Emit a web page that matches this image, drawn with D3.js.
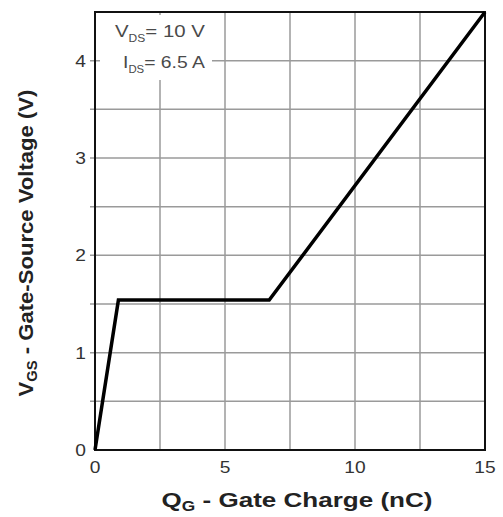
<!DOCTYPE html>
<html>
<head>
<meta charset="utf-8">
<script src="https://cdn.jsdelivr.net/npm/d3@7"></script>
<style>
  body { margin: 0; background: #fff; }
  svg { display: block; font-family: "Liberation Sans", Arial, sans-serif; }
</style>
</head>
<body>
<div id="chart"></div>
<script>
// >-----------------< Data >-------------------<
const gateCharge = [0, 0.9, 6.7, 15];        // Q_G (nC)
const gateVoltage = [0, 1.54, 1.54, 4.5];    // V_GS (V)
const xTicks = [0, 5, 10, 15];
const yTicks = [0, 1, 2, 3, 4];
const xGrid = [2.5, 5, 7.5, 10, 12.5];
const yGrid = [0.5, 1, 1.5, 2, 2.5, 3, 3.5, 4];

// >-----------------< Layout >-------------------<
const width = 503, height = 517;
const margin = {top: 12, right: 18, bottom: 67, left: 95};
const plotW = width - margin.left - margin.right;
const plotH = height - margin.top - margin.bottom;

const svg = d3.select("#chart").append("svg")
  .attr("width", width)
  .attr("height", height);

const g = svg.append("g")
  .attr("transform", `translate(${margin.left},${margin.top})`);

const x = d3.scaleLinear().domain([0, 15]).range([0, plotW]);
const y = d3.scaleLinear().domain([0, 4.5]).range([plotH, 0]);

// stretch a text horizontally so it spans the wanted width (source font is wider)
function stretchTo(sel, target, base) {
  const w = sel.node().getComputedTextLength();
  sel.attr("transform", `${base} scale(${target / w},1)`);
}

// Grid
g.selectAll(".vgrid").data(xGrid).enter().append("line")
  .attr("x1", d => x(d)).attr("x2", d => x(d))
  .attr("y1", 0).attr("y2", plotH)
  .attr("stroke", "#9a9a9a").attr("stroke-width", 1.5);

g.selectAll(".hgrid").data(yGrid).enter().append("line")
  .attr("x1", -5).attr("x2", plotW)
  .attr("y1", d => y(d)).attr("y2", d => y(d))
  .attr("stroke", "#9a9a9a").attr("stroke-width", 1.5);

// Annotation box (covers grid)
g.append("rect")
  .attr("x", 5).attr("y", 3)
  .attr("width", 112).attr("height", 65)
  .attr("fill", "#fff");

const ann = g.append("g").attr("fill", "#4a4a4a").attr("font-size", 17);
const t1 = ann.append("text");
t1.append("tspan").text("V");
t1.append("tspan").attr("font-size", 10).attr("dy", 5).text("DS");
t1.append("tspan").attr("dy", -5).text("= 10 V");
stretchTo(t1, 90, "translate(20,25)");
const t2 = ann.append("text");
t2.append("tspan").text("I");
t2.append("tspan").attr("font-size", 10).attr("dy", 5).text("DS");
t2.append("tspan").attr("dy", -5).text("= 6.5 A");
stretchTo(t2, 82, "translate(28,56)");

// Frame
g.append("rect")
  .attr("width", plotW).attr("height", plotH)
  .attr("fill", "none").attr("stroke", "#111").attr("stroke-width", 2);

// Curve
const line = d3.line().x(d => x(d[0])).y(d => y(d[1]));
g.append("path")
  .datum(d3.zip(gateCharge, gateVoltage))
  .attr("d", line)
  .attr("fill", "none")
  .attr("stroke", "#000")
  .attr("stroke-width", 3.5)
  .attr("stroke-linejoin", "miter");

// Tick labels (slightly wide, like the source)
g.selectAll(".xt").data(xTicks).enter().append("text")
  .attr("transform", d => `translate(${x(d)},${plotH + 23}) scale(1.2,1)`)
  .attr("text-anchor", "middle")
  .attr("font-size", 16).attr("fill", "#333")
  .text(d => d);

g.selectAll(".yt").data(yTicks).enter().append("text")
  .attr("transform", d => `translate(-9,${y(d) + 6}) scale(1.2,1)`)
  .attr("text-anchor", "end")
  .attr("font-size", 16).attr("fill", "#333")
  .text(d => d);

// Axis titles
const xt = svg.append("text")
  .attr("text-anchor", "middle")
  .attr("font-size", 21).attr("font-weight", "bold").attr("fill", "#222");
xt.append("tspan").text("Q");
xt.append("tspan").attr("font-size", 14).attr("dy", 4).text("G");
xt.append("tspan").attr("dy", -4).text(" - Gate Charge (nC)");
stretchTo(xt, 271, "translate(297,507)");

const yt = svg.append("text")
  .attr("text-anchor", "middle")
  .attr("font-size", 21).attr("font-weight", "bold").attr("fill", "#222");
yt.append("tspan").text("V");
yt.append("tspan").attr("font-size", 14).attr("dy", 4).text("GS");
yt.append("tspan").attr("dy", -4).text(" - Gate-Source Voltage (V)");
stretchTo(yt, 307, "translate(33,243) rotate(-90)");
</script>
</body>
</html>
